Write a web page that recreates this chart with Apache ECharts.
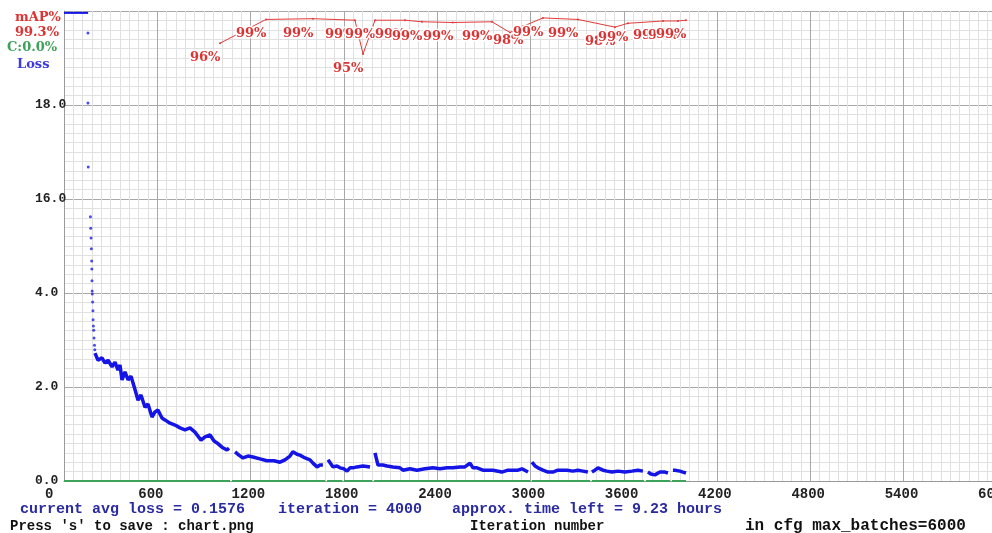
<!DOCTYPE html>
<html><head><meta charset="utf-8">
<script src="https://cdn.jsdelivr.net/npm/echarts@6/dist/echarts.min.js"></script>
<style>html,body{margin:0;padding:0;background:#fff}#c{width:992px;height:533px}</style>
</head><body><div id="c"></div>
<script>
// ---- data ----
const yTickLabels = ["0.0", "2.0", "4.0", "16.0", "18.0", ""];

// loss clamped at the top of the chart (first iterations)
const topIters = [0, 155];
const topLoss  = [9.96, 9.96];

// sparse early loss points
const dotIters = [154, 154, 156, 170, 172, 174, 176, 178, 179, 180, 181, 182, 184, 186, 187, 189, 191, 193, 196, 198];
const dotLoss  = [9.53, 8.04, 6.68, 5.62, 5.38, 5.17, 4.94, 4.68, 4.51, 4.26, 4.04, 3.98, 3.81, 3.62, 3.43, 3.30, 3.21, 3.04, 2.89, 2.79];

// dense loss curve (null = break in training log)
const lossIters = [199,219,244,264,283,309,328,347,360,373,392,412,431,457,476,495,521,540,566,585,604,630,649,682,714,746,778,810,842,881,907,939,965,984,1016,1048,1061,
  1074,
  1100,1125,1151,1183,1215,1260,1305,1350,1389,1421,1453,1472,1498,1517,1550,1582,1601,1627,1646,1665,
  1685,
  1698,1730,1755,1775,1800,1820,1839,1858,1884,1923,1968,
  1987,
  2000,2019,2051,2077,2115,2160,2180,2225,2270,2321,2373,2418,2463,2501,2546,2578,2611,2630,2656,2694,2720,2758,2816,2855,2887,2919,2945,2984,
  3003,
  3009,3029,3048,3080,3112,3144,3176,3234,3273,3305,3337,3369,
  3389,
  3395,3414,3434,3466,3491,3524,3562,3607,3652,3691,3723,
  3736,
  3755,3774,3800,3832,3864,3884,
  3903,
  3916,3929,3961,3980,4000];
const lossValues = [2.72,2.57,2.62,2.51,2.57,2.43,2.53,2.36,2.47,2.15,2.32,2.15,2.23,1.94,1.72,1.83,1.57,1.64,1.36,1.47,1.51,1.34,1.30,1.23,1.19,1.13,1.09,1.13,1.04,0.87,0.94,0.98,0.85,0.81,0.72,0.66,0.70,
  null,
  0.62,0.55,0.49,0.53,0.51,0.47,0.43,0.43,0.40,0.45,0.53,0.62,0.57,0.55,0.49,0.45,0.38,0.30,0.34,0.34,
  null,
  0.45,0.30,0.32,0.28,0.26,0.21,0.28,0.28,0.30,0.32,0.30,
  null,
  0.60,0.34,0.34,0.32,0.30,0.28,0.23,0.26,0.23,0.26,0.28,0.26,0.28,0.28,0.30,0.30,0.38,0.28,0.28,0.23,0.23,0.23,0.19,0.23,0.23,0.23,0.26,0.19,
  null,
  0.40,0.32,0.28,0.23,0.19,0.19,0.23,0.23,0.21,0.23,0.21,0.19,
  null,
  0.19,0.23,0.28,0.23,0.21,0.19,0.21,0.19,0.21,0.23,0.21,
  null,
  0.19,0.15,0.13,0.19,0.19,0.17,
  null,
  0.23,0.23,0.21,0.19,0.17];

// accuracy (C: 0.0%) line along the bottom
const accIters  = [0,1068,1074,1080,1680,1686,1692,1790,1795,1800,1982,1988,1994,2998,3003,3008,3384,3389,3395,3730,3736,3742,3898,3903,3910,4000];
const accValues = [0,0,null,0,0,null,0,0,null,0,0,null,0,0,null,0,0,null,0,0,null,0,0,null,0,0];

// mAP points
const mapIters  = [1003,1299,1601,1871,1923,2000,2193,2302,2501,2752,2868,2951,3080,3305,3543,3627,3852,3948,4000];
const mapValues = [96.0,99.1,99.2,99.0,94.6,99.0,99.0,98.8,98.7,98.8,97.4,98.2,99.3,99.1,98.1,98.6,98.9,98.9,99.0];
const mapLabels = ["96%","99%","99%","99%","95%","99%","99%","99%","99%","99%","","98%","99%","99%","98%","99%","99%","99%","99%"];

// ---- chart ----
const pair = (xs, ys) => xs.map((x, i) => [x, ys[i] === null ? '-' : ys[i]]);
const mono = '"Liberation Mono", "DejaVu Sans Mono", monospace';
const serif = '"DejaVu Serif", "Liberation Serif", serif';
const chart = echarts.init(document.getElementById('c'));

const txt = (text, x, y, color, font) => ({
  type: 'text', x: x, y: y, silent: true, z: 100,
  style: { text: text, fill: color, font: font, align: 'left', verticalAlign: 'middle', textAlign: 'left', textVerticalAlign: 'middle' }
});

chart.setOption({
  animation: false,
  backgroundColor: '#fff',
  grid: { left: 64, right: -5, top: 11, bottom: 52, containLabel: false, outerBoundsMode: 'none' },
  xAxis: {
    type: 'value', min: 0, max: 6000, interval: 600,
    axisLine: { show: true, lineStyle: { color: '#9a9a9a', width: 1 } },
    axisTick: { show: false },
    axisLabel: { show: true, margin: 6, align: 'left', padding: [0, 0, 0, -19], fontFamily: mono, fontWeight: 'bold', fontSize: 14, color: '#222', showMinLabel: true, showMaxLabel: true,
      formatter: v => String(v) },
    splitLine: { show: true, lineStyle: { color: '#a8a8a8', width: 1 } },
    minorTick: { show: false, splitNumber: 10 },
    minorSplitLine: { show: true, lineStyle: { color: '#e0e0e0', width: 1 } }
  },
  yAxis: [{
    type: 'value', min: 0, max: 10, interval: 2,
    axisLine: { show: true, lineStyle: { color: '#9a9a9a', width: 1 } },
    axisTick: { show: false },
    axisLabel: { show: true, margin: 29, align: 'left', fontFamily: mono, fontWeight: 'bold', fontSize: 13, color: '#222',
      formatter: v => yTickLabels[Math.round(v / 2)] },
    splitLine: { show: true, lineStyle: { color: '#a8a8a8', width: 1 } },
    minorTick: { show: false, splitNumber: 10 },
    minorSplitLine: { show: true, lineStyle: { color: '#e0e0e0', width: 1 } }
  }, {
    type: 'value', min: 39, max: 100.2, show: false, splitLine: { show: false }
  }],
  series: [
    { type: 'line', data: pair(accIters, accValues), showSymbol: false, clip: false, silent: true,
      lineStyle: { color: '#3ea35a', width: 2 }, z: 2 },
    { type: 'line', data: pair(topIters, topLoss), showSymbol: false, clip: false, silent: true,
      lineStyle: { color: '#1414e6', width: 2 }, z: 3 },
    { type: 'scatter', data: pair(dotIters, dotLoss), symbol: 'circle', symbolSize: 3, silent: true,
      itemStyle: { color: '#1e1ee6' }, z: 3 },
    { type: 'line', data: pair(lossIters, lossValues), showSymbol: false, silent: true,
      lineStyle: { color: '#1414e6', width: 3.5 }, z: 3 },
    { type: 'line', yAxisIndex: 1, data: pair(mapIters, mapValues), symbol: 'circle', symbolSize: 2,
      showSymbol: true, showAllSymbol: true, silent: true,
      lineStyle: { color: '#e23a3a', width: 1 }, itemStyle: { color: '#e23a3a' },
      label: { show: true, position: [-29, 9], formatter: p => mapLabels[p.dataIndex],
        color: '#dc3434', fontFamily: serif, fontWeight: 'bold', fontSize: 13, textBorderColor: '#fff', textBorderWidth: 3 },
      labelLayout: { hideOverlap: false }, z: 5 }
  ],
  graphic: [
    txt('mAP%', 15, 18, '#dc3434', 'bold 13px ' + serif),
    txt('99.3%', 15, 33, '#dc3434', 'bold 13px ' + serif),
    txt('C:0.0%', 7, 48, '#3ea35a', 'bold 13px ' + serif),
    txt('Loss', 17, 65, '#3a3ae0', 'bold 13px ' + serif),
    txt('current avg loss = 0.1576', 20, 509, '#2b2ba0', 'bold 15px ' + mono),
    txt('iteration = 4000', 278, 509, '#2b2ba0', 'bold 15px ' + mono),
    txt('approx. time left = 9.23 hours', 452, 509, '#2b2ba0', 'bold 15px ' + mono),
    txt("Press 's' to save : chart.png", 10, 526, '#111', 'bold 14px ' + mono),
    txt('Iteration number', 470, 526, '#111', 'bold 14px ' + mono),
    txt('in cfg max_batches=6000', 745, 526, '#111', 'bold 16px ' + mono)
  ]
});
</script>
</body></html>
